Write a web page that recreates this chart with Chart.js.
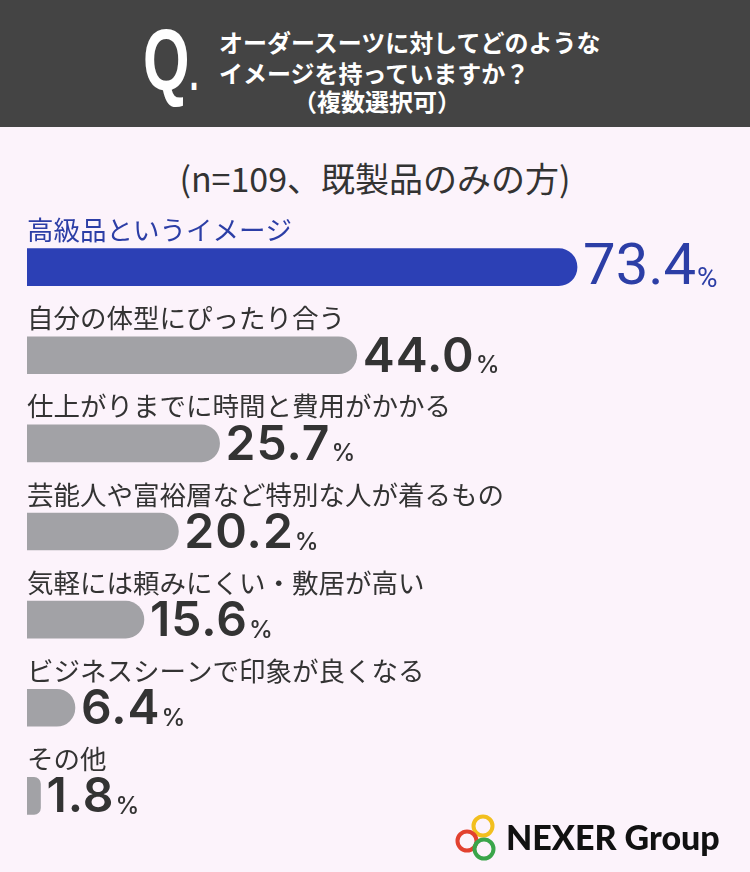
<!DOCTYPE html>
<html>
<head>
<meta charset="utf-8">
<script src="https://cdn.jsdelivr.net/npm/chart.js@4.4.1/dist/chart.umd.min.js"></script>
<style>
  body { margin: 0; width: 750px; height: 872px; background: #fcf3fb; position: relative; overflow: hidden;
         font-family: "Noto Sans CJK JP", sans-serif; }
  #header { position: absolute; left: 0; top: 0; width: 750px; height: 127px; background: #444444; color: #fff; }
  #q { position: absolute; left: 143px; top: 20px; font-family: "Liberation Sans", sans-serif;
       font-weight: bold; font-size: 88px; line-height: 80px; transform: scaleX(0.68); transform-origin: left top; }
  #q span { font-size: 48px; }
  .ql { position: absolute; font-weight: bold; font-size: 24px; line-height: 30px; white-space: nowrap; }
  #sub { position: absolute; top: 153px; width: 750px; text-align: center; font-size: 34px; color: #333; }
  #wrap { position: absolute; left: 0; top: 200px; width: 750px; height: 640px; }
  #logo { position: absolute; left: 450px; top: 812px; width: 290px; height: 52px; }
  #logo span { position: absolute; left: 56px; top: 4px; font-family: "Lato", sans-serif; font-weight: 900;
               font-size: 34px; color: #111; white-space: nowrap; }
</style>
</head>
<body>
<div id="header">
  <div id="q">Q<span>.</span></div>
  <div class="ql" style="left:219px; top:27px;">オーダースーツに対してどのような</div>
  <div class="ql" style="left:219px; top:58px;">イメージを持っていますか？</div>
  <div class="ql" style="left:293px; top:86px;">（複数選択可）</div>
</div>
<div id="sub">(n=109、既製品のみの方)</div>
<div id="wrap"><canvas id="chart"></canvas></div>
<div id="logo">
  <svg width="56" height="52" style="position:absolute;left:0;top:0;">
    <circle cx="33" cy="14" r="9.5" fill="none" stroke="#f2bf1f" stroke-width="4"/>
    <circle cx="17" cy="29" r="9.5" fill="none" stroke="#e2412f" stroke-width="4"/>
    <circle cx="34" cy="37" r="9.5" fill="none" stroke="#3aa54a" stroke-width="4"/>
  </svg>
  <span>NEXER Group</span>
</div>
<script>
const categories = [
  '高級品というイメージ',
  '自分の体型にぴったり合う',
  '仕上がりまでに時間と費用がかかる',
  '芸能人や富裕層など特別な人が着るもの',
  '気軽には頼みにくい・敷居が高い',
  'ビジネスシーンで印象が良くなる',
  'その他'
];
const percents = [73.4, 44.0, 25.7, 20.2, 15.6, 6.4, 1.8];
const barColors = ['#2c40b5', '#a2a2a6', '#a2a2a6', '#a2a2a6', '#a2a2a6', '#a2a2a6', '#a2a2a6'];
const labelColors = ['#2c3ea6', '#333333', '#333333', '#333333', '#333333', '#333333', '#333333'];

const labelPlugin = {
  id: 'labels',
  afterDatasetsDraw(chart) {
    const ctx = chart.ctx;
    const meta = chart.getDatasetMeta(0);
    ctx.save();
    meta.data.forEach((bar, i) => {
      // category text above the bar
      ctx.fillStyle = labelColors[i];
      ctx.font = '26.5px "Noto Sans CJK JP"';
      ctx.textBaseline = 'middle';
      ctx.textAlign = 'left';
      ctx.letterSpacing = '0px';
      ctx.fillText(categories[i], 27, bar.y - 37);
      // value text after the bar
      const num = percents[i].toFixed(1);
      const first = i === 0;
      ctx.font = first ? '58px Roboto' : '600 48px Inter';
      ctx.letterSpacing = first ? '0px' : '1px';
      const x0 = bar.x + 6;
      ctx.fillText(num, x0, bar.y + 2);
      const w = ctx.measureText(num).width;
      ctx.font = first ? '28px Roboto' : '500 24px Inter';
      ctx.letterSpacing = '0px';
      ctx.textBaseline = 'alphabetic';
      ctx.fillText('%', x0 + w + 1, bar.y + (first ? 20 : 18));
    });
    ctx.restore();
  }
};

new Chart(document.getElementById('chart'), {
  type: 'bar',
  data: {
    labels: categories,
    datasets: [{
      data: percents,
      backgroundColor: barColors,
      barThickness: 37,
      borderRadius: { topRight: 19, bottomRight: 19, topLeft: 0, bottomLeft: 0 },
      borderSkipped: false
    }]
  },
  options: {
    indexAxis: 'y',
    responsive: true,
    maintainAspectRatio: false,
    animation: false,
    layout: { padding: { left: 27, right: 131, top: 23, bottom: 0 } },
    scales: {
      x: { display: false, min: 0, max: 79 },
      y: { display: false }
    },
    plugins: { legend: { display: false }, tooltip: { enabled: false } }
  },
  plugins: [labelPlugin]
});
</script>
</body>
</html>
